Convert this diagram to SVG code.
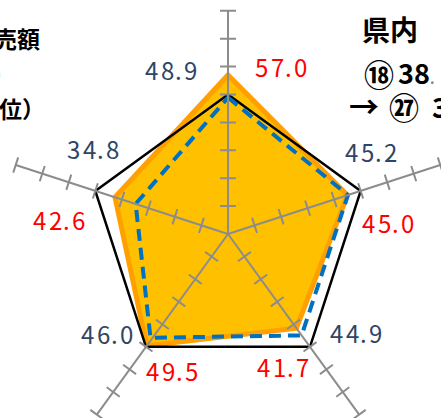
<svg xmlns="http://www.w3.org/2000/svg" width="441" height="418" viewBox="0 0 441 418">
<style>
.ax{stroke:#8c8c8c;stroke-width:2;fill:none}
.lbl{font-family:"Noto Sans CJK JP","Liberation Sans",sans-serif;font-size:24px}
.blue{fill:#2f4565}
.red{fill:#ff0000}
.head{font-family:"Noto Sans CJK JP","Liberation Sans",sans-serif;font-weight:bold;fill:#000}
</style>
<defs>
<g id="axis">
<line class="ax" x1="228" y1="234" x2="228" y2="10.8"/>
<path class="ax" d="M220,206.1H236M220,178.2H236M220,150.3H236M220,122.4H236M220,94.5H236M220,66.6H236M220,38.7H236M220,10.8H236"/>
</g>
</defs>
<g id="series-orange">
<polygon points="228,74.97 347.41,195.2 296.38,328.12 146.82,345.73 114.97,197.27" fill="#ffc000" stroke="#ffa000" stroke-width="5" stroke-linejoin="miter"/>
</g>
<g id="series-black">
<polygon points="228,94.5 360.67,190.89 310,346.86 146,346.86 95.33,190.89" fill="none" stroke="#000" stroke-width="2.5"/>
</g>
<g id="series-blue">
<polygon points="228,97.57 347.94,195.03 301.63,335.35 150.5,337.8 135.66,204" fill="none" stroke="#0070c0" stroke-width="4" stroke-dasharray="12 7"/>
</g>
<g id="connectors">
<use href="#axis"/>
<use href="#axis" transform="rotate(72 228 234)"/>
<use href="#axis" transform="rotate(144 228 234)"/>
<use href="#axis" transform="rotate(216 228 234)"/>
<use href="#axis" transform="rotate(288 228 234)"/>
</g>
<g id="labels">
<text class="lbl blue" x="145 161 175 184" y="80">48.9</text>
<text class="lbl red" x="255 271 285 294" y="77">57.0</text>
<text class="lbl blue" x="345 361 375 384" y="162">45.2</text>
<text class="lbl red" x="362 378 392 401" y="233">45.0</text>
<text class="lbl blue" x="330 346 360 369" y="343">44.9</text>
<text class="lbl red" x="257 273 287 296" y="377">41.7</text>
<text class="lbl blue" x="81 97 111 120" y="344">46.0</text>
<text class="lbl red" x="146 162 176 185" y="381">49.5</text>
<text class="lbl blue" x="67 83 97 106" y="159">34.8</text>
<text class="lbl red" x="33 49 63 72" y="230">42.6</text>
</g>
<g id="title-left">
<text class="head" x="-6" y="48" font-size="23">売額</text>
<text class="head" x="-8" y="84" font-size="23">）</text>
<text class="head" x="-1" y="118" font-size="23">位）</text>
</g>
<g id="title-right">
<text class="head" x="362" y="41" font-size="28">県内</text>
<text class="head" x="364" y="86" font-size="30">⑱</text>
<text class="head" x="398" y="84" font-size="27">38<tspan font-size="14" fill="#888">.</tspan></text>
<text class="head" x="349" y="118" font-size="30" font-weight="normal">→</text>
<text class="head" x="389" y="119" font-size="30">㉗</text>
<text class="head" x="432" y="118" font-size="28">3</text>
</g>
</svg>
